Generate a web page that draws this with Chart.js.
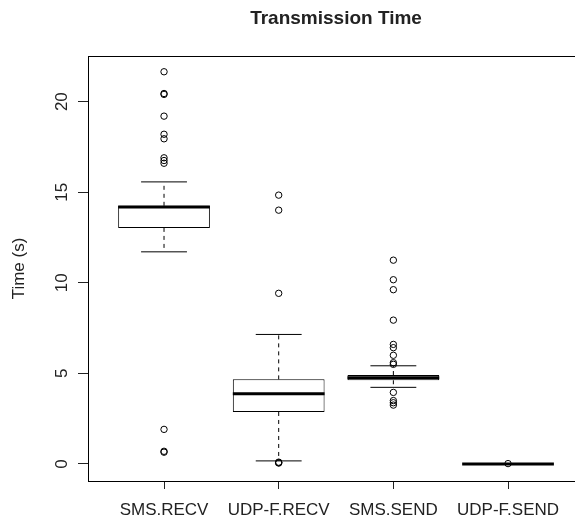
<!DOCTYPE html>
<html>
<head>
<meta charset="utf-8">
<title>Transmission Time</title>
<script src="https://cdn.jsdelivr.net/npm/chart.js@4.4.1/dist/chart.umd.min.js"></script>
<style>
  body { margin: 0; background: #fff; }
  #wrap { width: 575px; height: 525px; }
</style>
</head>
<body>
<div id="wrap"><canvas id="boxChart"></canvas></div>
<script>
// values (seconds)
const categories = ['SMS.RECV', 'UDP-F.RECV', 'SMS.SEND', 'UDP-F.SEND'];
const lowerWhisker = [11.71, 0.17, 4.23, 0];
const lowerQuartile = [13.03, 2.87, 4.62, 0];
const medianValues = [14.18, 3.88, 4.76, 0];
const upperQuartile = [14.25, 4.67, 4.91, 0];
const upperWhisker = [15.57, 7.15, 5.42, 0];
const outliersSmsRecv = [21.65, 20.45, 20.4, 19.2, 18.2, 17.95, 16.9, 16.75, 16.6, 1.91, 0.7, 0.65];
const outliersUdpRecv = [14.84, 14.01, 9.42, 0.1, 0.07, 0.05];
const outliersSmsSend = [11.25, 10.17, 9.62, 7.94, 6.6, 6.42, 6.0, 5.59, 5.5, 3.95, 3.5, 3.38, 3.25];
const outliersUdpSend = [0.02];
const yTicks = [0, 5, 10, 15, 20];

const outliers = [outliersSmsRecv, outliersUdpRecv, outliersSmsSend, outliersUdpSend];
const FONT = '"Liberation Sans", Arial, sans-serif';
const TEXT = '#222';
const HALF_BOX = 0.4;
const HALF_CAP = 0.2;

// build the segments for medians, whiskers and caps
const medianSeg = [];
const whiskerSeg = [];
const capSeg = [];
const outlierPts = [];
categories.forEach((_, i) => {
    const x = i + 1;
    medianSeg.push({x: x - HALF_BOX, y: medianValues[i]}, {x: x + HALF_BOX, y: medianValues[i]}, {x: x, y: null});
    whiskerSeg.push({x: x, y: upperQuartile[i]}, {x: x, y: upperWhisker[i]}, {x: x, y: null});
    whiskerSeg.push({x: x, y: lowerQuartile[i]}, {x: x, y: lowerWhisker[i]}, {x: x, y: null});
    capSeg.push({x: x - HALF_CAP, y: upperWhisker[i]}, {x: x + HALF_CAP, y: upperWhisker[i]}, {x: x, y: null});
    capSeg.push({x: x - HALF_CAP, y: lowerWhisker[i]}, {x: x + HALF_CAP, y: lowerWhisker[i]}, {x: x, y: null});
    outliers[i].forEach(v => outlierPts.push({x: x, y: v}));
});

// title, rotated y labels and top frame line
const extras = {
    id: 'extras',
    afterDraw(chart) {
        const c = chart.ctx, a = chart.chartArea, ys = chart.scales.y, xs = chart.scales.x;
        c.save();
        c.strokeStyle = '#000';
        c.lineWidth = 1;
        c.beginPath();
        c.moveTo(a.left, Math.round(a.top) + 0.5);
        c.lineTo(a.right, Math.round(a.top) + 0.5);
        c.stroke();
        c.fillStyle = TEXT;
        c.textAlign = 'center';
        c.textBaseline = 'middle';
        c.font = 'bold 19px ' + FONT;
        c.fillText('Transmission Time', xs.getPixelForValue(2.5), 19);
        c.font = '17px ' + FONT;
        yTicks.forEach(v => {
            c.save();
            c.translate(62, ys.getPixelForValue(v));
            c.rotate(-Math.PI / 2);
            c.fillText(String(v), 0, 0);
            c.restore();
        });
        c.save();
        c.translate(19, (a.top + a.bottom) / 2);
        c.rotate(-Math.PI / 2);
        c.fillText('Time (s)', 0, 0);
        c.restore();
        c.restore();
    }
};

const ctx = document.getElementById('boxChart').getContext('2d');
const boxChart = new Chart(ctx, {
    type: 'bar',
    data: {
        datasets: [
            {
                type: 'scatter',
                data: outlierPts,
                pointStyle: 'circle',
                pointRadius: 3.2,
                pointBorderWidth: 1,
                pointBorderColor: '#000',
                pointBackgroundColor: 'rgba(0,0,0,0)',
                order: 0
            },
            {
                type: 'line',
                data: medianSeg,
                borderColor: '#000',
                borderWidth: 3,
                pointRadius: 0,
                spanGaps: false,
                order: 1
            },
            {
                type: 'bar',
                data: categories.map((_, i) => ({x: i + 1, y: [lowerQuartile[i], upperQuartile[i]]})),
                backgroundColor: '#fff',
                borderColor: '#000',
                borderWidth: 1,
                borderSkipped: false,
                barPercentage: 0.8,
                categoryPercentage: 1.0,
                order: 2
            },
            {
                type: 'line',
                data: capSeg,
                borderColor: '#000',
                borderWidth: 1,
                pointRadius: 0,
                spanGaps: false,
                order: 3
            },
            {
                type: 'line',
                data: whiskerSeg,
                borderColor: '#000',
                borderWidth: 1,
                borderDash: [4, 4],
                pointRadius: 0,
                spanGaps: false,
                order: 4
            }
        ]
    },
    options: {
        responsive: true,
        maintainAspectRatio: false,
        animation: false,
        events: [],
        layout: { autoPadding: false, padding: { top: 56, left: 0, right: 0, bottom: 0 } },
        plugins: {
            legend: { display: false },
            tooltip: { enabled: false },
            title: { display: false }
        },
        scales: {
            x: {
                type: 'linear',
                min: 0.337,
                max: 4.584,
                offset: false,
                afterBuildTicks: s => { s.ticks = categories.map((_, i) => ({value: i + 1})); },
                afterFit: s => { s.height = 44; s.paddingLeft = 0; s.paddingRight = 0; },
                ticks: {
                    callback: (v, i) => categories[i],
                    font: { size: 17, family: FONT },
                    color: TEXT,
                    padding: 11,
                    maxRotation: 0,
                    autoSkip: false
                },
                grid: { drawOnChartArea: false, offset: false, tickLength: 8, color: '#222' },
                border: { display: true, color: '#000', width: 1 }
            },
            y: {
                type: 'linear',
                min: -0.94,
                max: 22.52,
                afterBuildTicks: s => { s.ticks = yTicks.map(v => ({value: v})); },
                afterFit: s => { s.width = 88; s.paddingTop = 0; s.paddingBottom = 0; },
                ticks: { display: false },
                grid: { drawOnChartArea: false, tickLength: 10, color: '#222' },
                border: { display: true, color: '#000', width: 1 }
            }
        }
    },
    plugins: [extras]
});
</script>
</body>
</html>
